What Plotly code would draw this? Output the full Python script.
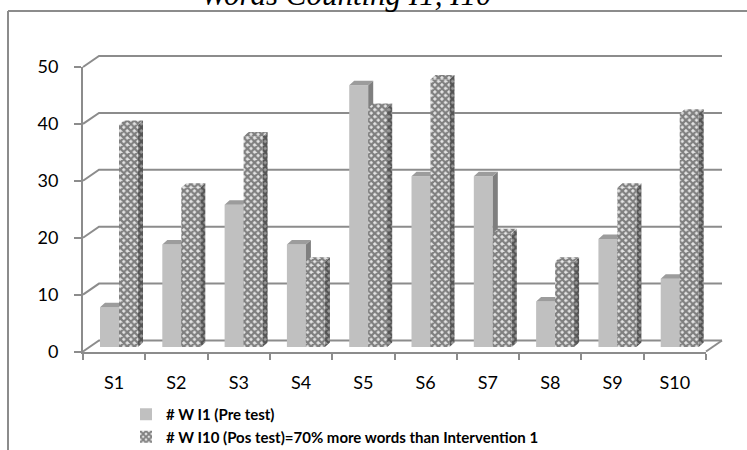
import plotly.graph_objects as go

# ---- data -------------------------------------------------------------
categories = ["S1", "S2", "S3", "S4", "S5", "S6", "S7", "S8", "S9", "S10"]
pre_test = [7, 18, 25, 18, 46, 30, 30, 8, 19, 12]
post_test = [39, 28, 37, 15, 42, 47, 20, 15, 28, 41]
y_ticks = [0, 10, 20, 30, 40, 50]
series_names = [
    "# W I1 (Pre test)",
    "# W I10 (Pos test)=70% more words than Intervention 1",
]
title_text = "Words Counting I1, I10"

# ---- layout geometry (pixels of a 747x450 canvas) ---------------------
W, H = 747, 450
X0_PX, PX_PER_CAT = 83.0, 62.3          # front axis origin and category pitch
Y0_PX, PX_PER_VAL = 351.5, 5.69         # front zero line and value scale
N_CAT = len(categories)
Y_MAX = 50

# depth of the 3-D box (back wall offset) in axis units
WALL_DX = 16 / PX_PER_CAT
WALL_DY = 11 / PX_PER_VAL
# bar placement inside each category, plus bevel depth of the columns
BAR_LEFT = 0.273
BAR_W = 0.305
BAR_BASE = 0.79
FACE_DX = 5 / PX_PER_CAT
FACE_DY = 4.5 / PX_PER_VAL

AX = "#8c8c8c"
FONT = "Lato"

# full-canvas ranges sharing the same scale as the front axes
full_x = [-X0_PX / PX_PER_CAT, (W - X0_PX) / PX_PER_CAT]
full_y = [-(H - Y0_PX) / PX_PER_VAL, Y0_PX / PX_PER_VAL]
front_xdom = [X0_PX / W, (X0_PX + PX_PER_CAT * N_CAT) / W]
front_ydom = [(H - Y0_PX) / H, (H - (Y0_PX - PX_PER_VAL * Y_MAX)) / H]

centers = [i + 0.5 for i in range(N_CAT)]


def bevel_faces(values, left):
    """Side and top faces for a row of columns."""
    sx, sy, tx, ty = [], [], [], []
    for i, v in enumerate(values):
        xl = i + left
        xr = xl + BAR_W
        b = BAR_BASE
        t = BAR_BASE + v
        sx += [xr, xr, xr + FACE_DX, xr + FACE_DX, xr, None]
        sy += [b, t, t + FACE_DY, b + FACE_DY, b, None]
        tx += [xl, xr, xr + FACE_DX, xl + FACE_DX, xl, None]
        ty += [t, t, t + FACE_DY, t + FACE_DY, t, None]
    return sx, sy, tx, ty


fig = go.Figure()

# front value/category axes (carry the ticks and labels)
fig.add_trace(go.Scatter(x=[None], y=[None], mode="markers", showlegend=False,
                         hoverinfo="skip", xaxis="x", yaxis="y"))

# back wall gridlines and their diagonals toward the value axis
gx, gy = [], []
for v in y_ticks:
    gx += [0, WALL_DX, N_CAT + WALL_DX, None]
    gy += [v, v + WALL_DY, v + WALL_DY, None]
gx += [N_CAT, N_CAT + WALL_DX, None]
gy += [0, WALL_DY, None]
fig.add_trace(go.Scatter(x=gx, y=gy, mode="lines", line=dict(color=AX, width=2),
                         hoverinfo="skip", showlegend=False,
                         xaxis="x2", yaxis="y2"))

# pre test columns (solid grey)
fig.add_trace(go.Bar(x=centers, y=pre_test, base=BAR_BASE, width=BAR_W,
                     offset=BAR_LEFT - 0.5, name="<b>%s</b>" % series_names[0],
                     marker=dict(color="#c0c0c0", line=dict(width=0)),
                     xaxis="x3", yaxis="y3"))
sx, sy, tx, ty = bevel_faces(pre_test, BAR_LEFT)
fig.add_trace(go.Scatter(x=sx, y=sy, mode="lines", fill="toself", line=dict(width=0),
                         fillcolor="#7f7f7f", showlegend=False, hoverinfo="skip",
                         xaxis="x3", yaxis="y3"))
fig.add_trace(go.Scatter(x=tx, y=ty, mode="lines", fill="toself", line=dict(width=0),
                         fillcolor="#9c9c9c", showlegend=False, hoverinfo="skip",
                         xaxis="x3", yaxis="y3"))

# post test columns (textured)
tex = dict(shape="x", bgcolor="#e4e4e4", fgcolor="#1a1a1a", size=5, solidity=0.7)
tex_dark = dict(shape="x", bgcolor="#9a9a9a", fgcolor="#101010", size=5, solidity=0.7)
fig.add_trace(go.Bar(x=centers, y=post_test, base=BAR_BASE, width=BAR_W,
                     offset=BAR_LEFT + BAR_W - 0.5, name="<b>%s</b>" % series_names[1],
                     marker=dict(color="#1a1a1a", line=dict(width=0), pattern=tex),
                     xaxis="x4", yaxis="y4"))
sx, sy, tx, ty = bevel_faces(post_test, BAR_LEFT + BAR_W)
fig.add_trace(go.Scatter(x=sx, y=sy, mode="lines", fill="toself", line=dict(width=0),
                         fillcolor="#101010", fillpattern=tex_dark, showlegend=False,
                         hoverinfo="skip", xaxis="x4", yaxis="y4"))
fig.add_trace(go.Scatter(x=tx, y=ty, mode="lines", fill="toself", line=dict(width=0),
                         fillcolor="#1a1a1a", fillpattern=tex, showlegend=False,
                         hoverinfo="skip", xaxis="x4", yaxis="y4"))

hidden = dict(visible=False, domain=[0, 1], fixedrange=True)
fig.update_layout(
    width=W, height=H, autosize=False,
    margin=dict(l=0, r=0, t=0, b=0, pad=0, autoexpand=False),
    paper_bgcolor="white", plot_bgcolor="rgba(0,0,0,0)",
    barmode="overlay",
    font=dict(family=FONT, size=18, color="#000000"),
    xaxis=dict(domain=front_xdom, range=[0, N_CAT], anchor="y",
               tickmode="array", tickvals=centers, ticktext=categories,
               ticks="", showgrid=False, zeroline=False,
               showline=True, linecolor=AX, linewidth=2,
               ticklabelstandoff=14,
               minor=dict(tickmode="array", tickvals=list(range(N_CAT + 1)),
                          ticks="outside", ticklen=6, tickwidth=2, tickcolor=AX,
                          showgrid=False)),
    yaxis=dict(domain=front_ydom, range=[0, Y_MAX], anchor="x",
               tickmode="array", tickvals=y_ticks, ticks="outside",
               ticklen=7, tickwidth=2, tickcolor=AX, showgrid=False,
               zeroline=False, showline=True, linecolor=AX, linewidth=2,
               ticklabelstandoff=12),
    xaxis2=dict(hidden, range=full_x, anchor="y2"),
    yaxis2=dict(hidden, range=full_y, anchor="x2"),
    xaxis3=dict(hidden, range=full_x, anchor="y3"),
    yaxis3=dict(hidden, range=full_y, anchor="x3"),
    xaxis4=dict(hidden, range=full_x, anchor="y4"),
    yaxis4=dict(hidden, range=full_y, anchor="x4"),
    legend=dict(x=126 / W, y=1 - 398 / H, xanchor="left", yanchor="top",
                font=dict(family=FONT, size=15, color="#000000"),
                bgcolor="rgba(0,0,0,0)", tracegroupgap=0),
    showlegend=True,
)

# outer chart frame (left and top edges, continuing past the canvas)
FRAME_X, FRAME_Y = 8 / W, 1 - 11 / H
fig.add_shape(type="line", xref="paper", yref="paper", x0=FRAME_X, x1=FRAME_X,
              y0=-0.1, y1=FRAME_Y, line=dict(color=AX, width=2))
fig.add_shape(type="line", xref="paper", yref="paper", x0=FRAME_X, x1=1.1,
              y0=FRAME_Y, y1=FRAME_Y, line=dict(color=AX, width=2))

fig.add_annotation(text="<i>%s</i>" % title_text, xref="paper", yref="paper",
                   x=346 / W, y=1 - 14 / H, xanchor="center", yanchor="bottom",
                   showarrow=False,
                   font=dict(family="Liberation Serif", size=31, color="#000000"))

fig.write_html("out.html")
